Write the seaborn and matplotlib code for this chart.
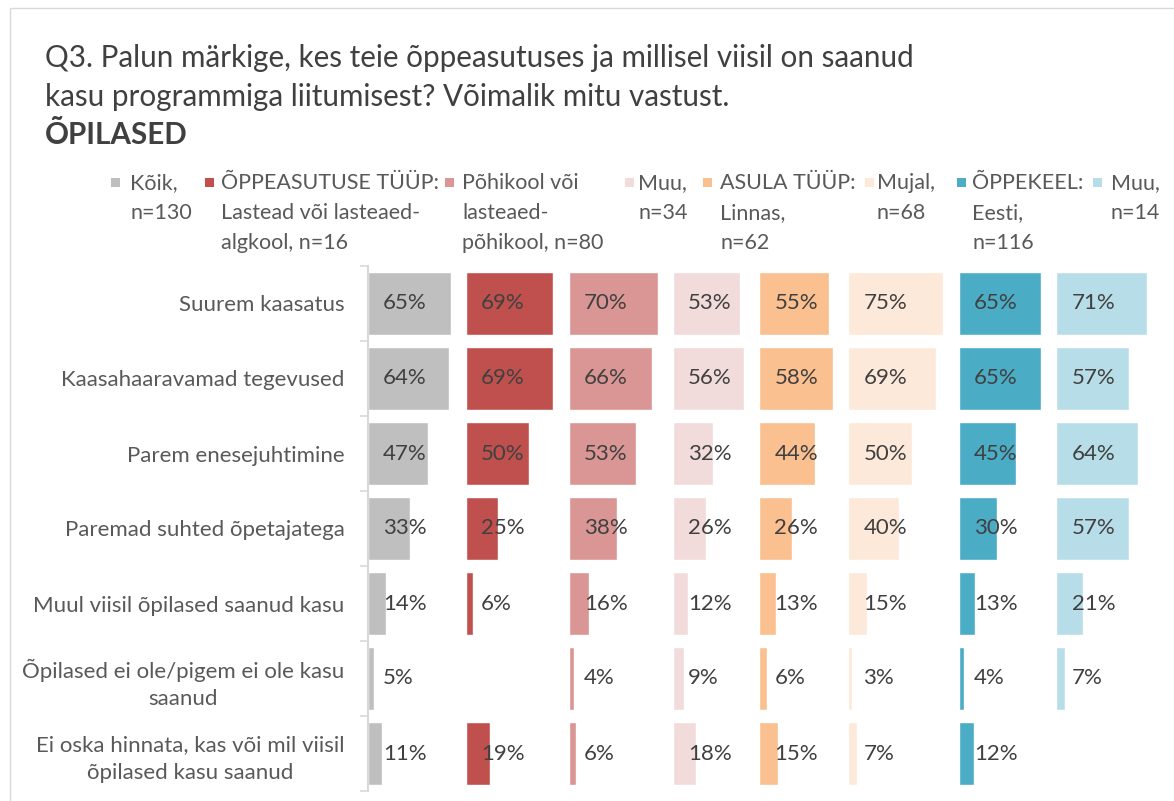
import numpy as np
import seaborn as sns
import matplotlib.pyplot as plt
from matplotlib.patches import Rectangle

# data
categories = [
    "Suurem kaasatus",
    "Kaasahaaravamad tegevused",
    "Parem enesejuhtimine",
    "Paremad suhted õpetajatega",
    "Muul viisil õpilased saanud kasu",
    "Õpilased ei ole/pigem ei ole kasu\nsaanud",
    "Ei oska hinnata, kas või mil viisil\nõpilased kasu saanud",
]
group_labels = [
    "Kõik,\nn=130",
    "ÕPPEASUTUSE TÜÜP:\nLastead või lasteaed-\nalgkool, n=16",
    "Põhikool või\nlasteaed-\npõhikool, n=80",
    "Muu,\nn=34",
    "ASULA TÜÜP:\nLinnas,\nn=62",
    "Mujal,\nn=68",
    "ÕPPEKEEL:\nEesti,\nn=116",
    "Muu,\nn=14",
]
koik = [65, 64, 47, 33, 14, 5, 11]
lasteaed = [69, 69, 50, 25, 6, np.nan, 19]
pohikool = [70, 66, 53, 38, 16, 4, 6]
muu_tyyp = [53, 56, 32, 26, 12, 9, 18]
linnas = [55, 58, 44, 26, 13, 6, 15]
mujal = [75, 69, 50, 40, 15, 3, 7]
eesti = [65, 65, 45, 30, 13, 4, 12]
muu_keel = [71, 57, 64, 57, 21, 7, np.nan]
series = [koik, lasteaed, pohikool, muu_tyyp, linnas, mujal, eesti, muu_keel]
colors = ["#BFBFBF", "#C0504D", "#DA9694", "#F2DCDB",
          "#FAC090", "#FDE9D9", "#4BACC6", "#B7DEE8"]

sns.set_theme(style="white")
plt.rcParams["font.family"] = ["Lato", "DejaVu Sans"]

W, H = 1174, 801
fig = plt.figure(figsize=(W / 100, H / 100), dpi=100)

# outer chart frame
fig.add_artist(Rectangle((10 / W, -0.1), 1.2, 1 - 8 / H + 0.1, transform=fig.transFigure,
                         fill=False, edgecolor="#D9D9D9", linewidth=1))

title_kw = dict(fontsize=21.3, color="#404040", va="center")
fig.text(45 / W, 1 - 58 / H, "Q3. Palun märkige, kes teie õppeasutuses ja millisel viisil on saanud", **title_kw)
fig.text(45 / W, 1 - 97 / H, "kasu programmiga liitumisest? Võimalik mitu vastust.", **title_kw)
fig.text(45 / W, 1 - 135 / H, "ÕPILASED", fontweight="bold", **title_kw)

# legend, drawn by hand so the square sits on the first line
leg_x = [111, 205, 445, 625, 703, 865, 957, 1093]
leg_tx = [130, 221, 462, 638, 720, 877, 972, 1111]
for lx, tx, lab, c in zip(leg_x, leg_tx, group_labels, colors):
    fig.add_artist(Rectangle((lx / W, 1 - 187 / H), 9 / W, 9 / H,
                             transform=fig.transFigure, color=c, lw=0))
    fig.text(tx / W, 1 - 173 / H, lab, fontsize=15.5, color="#595959",
             va="top", ha="left", linespacing=1.62)

px_per_pct = 1.27
gap = 12
x0 = 368
top, bottom = 266, 791

x = x0
for i, (vals, c) in enumerate(zip(series, colors)):
    vals = np.array(vals, dtype=float)
    span = np.nanmax(vals) + gap
    ax = fig.add_axes([x / W, 1 - bottom / H, span * px_per_pct / W, (bottom - top) / H])
    sns.barplot(x=np.nan_to_num(vals), y=categories, ax=ax, color=c,
                width=0.84, orient="h", saturation=1)
    ax.set_xlim(0, span)
    ax.set_ylim(len(categories) - 0.5, -0.5)
    ax.set_xticks([])
    ax.set_xlabel("")
    ax.set_ylabel("")
    for s in ["top", "right", "bottom"]:
        ax.spines[s].set_visible(False)
    for j, v in enumerate(vals):
        if not np.isnan(v):
            ax.text(12, j, f"{v:.0f}%", va="center", ha="left",
                    fontsize=16, color="#404040")
    if i == 0:
        ax.spines["left"].set_color("#D9D9D9")
        ax.spines["left"].set_linewidth(1.5)
        ax.set_yticks(np.arange(-0.5, len(categories), 1), minor=True)
        ax.tick_params(axis="y", which="minor", length=6, color="#D9D9D9", width=1.2, left=True)
        ax.tick_params(axis="y", which="major", length=0, pad=17,
                       labelsize=16, labelcolor="#595959")
        for t in ax.get_yticklabels():
            t.set_multialignment("center")
            t.set_linespacing(1.45)
    else:
        ax.spines["left"].set_visible(False)
        ax.set_yticks([])
    x += span * px_per_pct

fig.savefig("out.png", dpi=100)
